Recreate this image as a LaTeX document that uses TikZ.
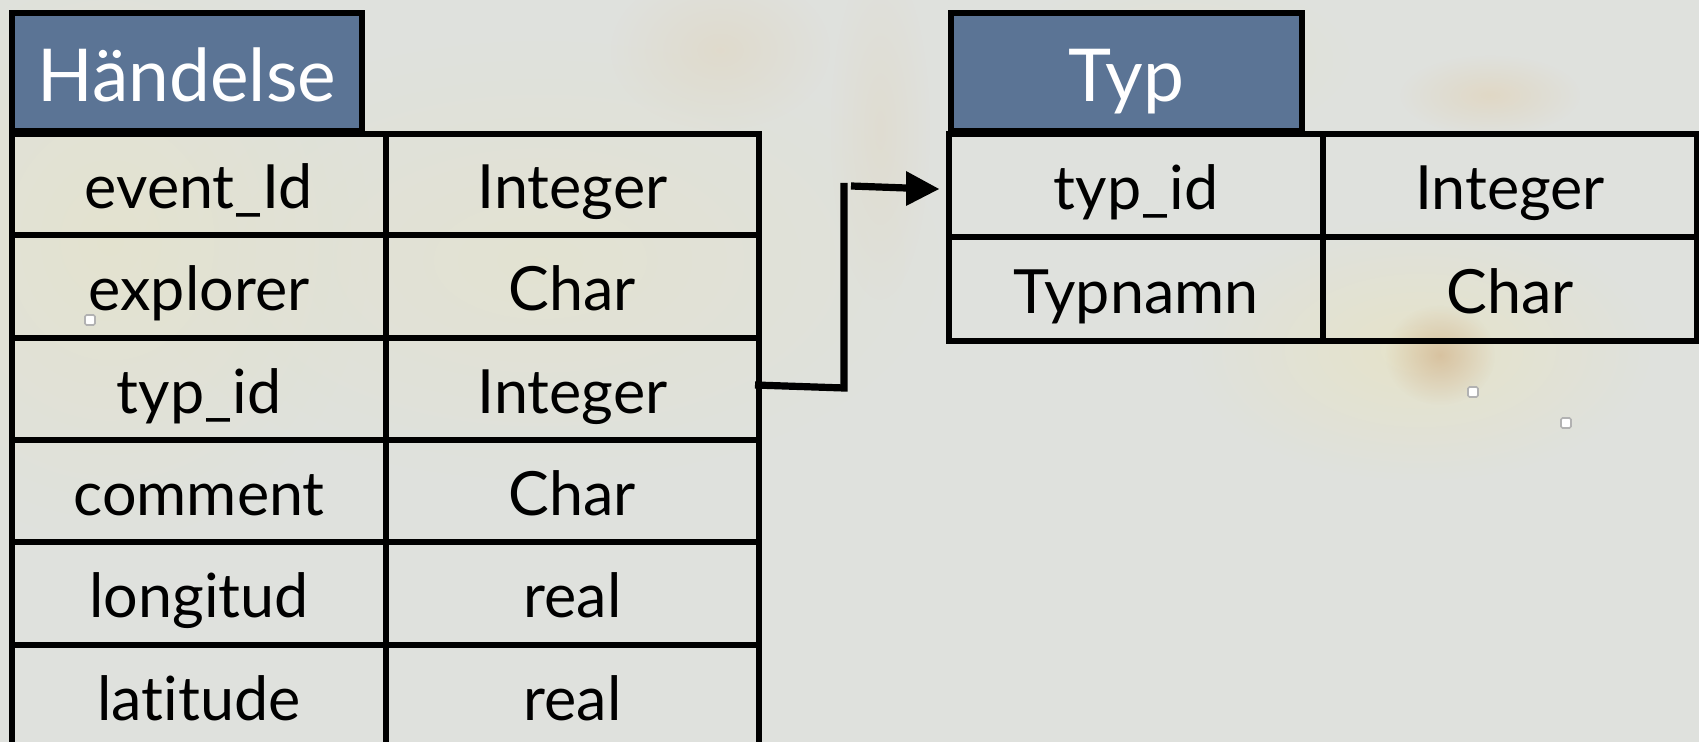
\documentclass[tikz,border=0pt]{standalone}
\usepackage{fontspec}
\setmainfont{Lato}[Ligatures=CommonOff]
\usetikzlibrary{fadings}
\tikzfading[name=softblot,inner color=transparent!0,outer color=transparent!100]
\definecolor{bgc}{HTML}{DFE1DD}
\definecolor{headc}{HTML}{5B7495}
\definecolor{blotA}{HTML}{E8E4C4}
\definecolor{blotB}{HTML}{E2CFAE}
\definecolor{blotC}{HTML}{D2B48E}
\tikzset{
  x=0.5pt,y=-0.5pt,
  cellbox/.style={draw=black,line width=2.8pt,inner sep=0pt,outer sep=0pt,
    text height=26.8pt,text depth=2.5pt,font=\fontsize{30.5}{30.5}\selectfont,text=black},
  headbox/.style={draw=black,line width=2.8pt,fill=headc,inner sep=0pt,outer sep=0pt,
    text height=34pt,text depth=4.5pt,font=\fontsize{36.5}{36.5}\selectfont,text=white},
  blot/.style={fill=#1,path fading=softblot,draw=none},
  marker/.style={draw=black!30,fill=white,line width=0.8pt,minimum size=5pt,inner sep=0pt,rounded corners=0.8pt},
  link/.style={draw=black,line width=3.6pt,line join=miter},
  linkhead/.style={fill=black,draw=none}
}
\newcommand{\cellat}[6]{% name, x1, y1, x2, y2, text
  \node[cellbox,minimum width=#4*0.5pt-#2*0.5pt,minimum height=#5*0.5pt-#3*0.5pt] (#1) at ({(#2+#4)/2},{(#3+#5)/2}) {#6};}
\begin{document}
\begin{tikzpicture}
\useasboundingbox (0,0) rectangle (1699,742);
\clip (0,0) rectangle (1699,742);
\fill[bgc] (0,0) rectangle (1699,742);
% faint background blotches
\path[blot=blotA,opacity=0.55] (110,240) ellipse [x radius=260,y radius=300];
\path[blot=blotA,opacity=0.45] (540,260) ellipse [x radius=400,y radius=220];
\path[blot=blotB,opacity=0.35] (720,50) ellipse [x radius=110,y radius=80];
\path[blot=blotB,opacity=0.5] (1490,95) ellipse [x radius=90,y radius=40];
\path[blot=blotA,opacity=0.8] (1420,350) ellipse [x radius=230,y radius=130];
\path[blot=blotC,opacity=0.7] (1440,355) ellipse [x radius=55,y radius=50];
\path[blot=blotB,opacity=0.25] (880,130) ellipse [x radius=50,y radius=170];
\path[blot=blotA,opacity=0.4] (1180,60) ellipse [x radius=170,y radius=80];
% Händelse
\cellat{ha}{12}{134}{386}{235}{event\_Id}
\cellat{hb}{386}{134}{759}{235}{Integer}
\cellat{hc}{12}{235}{386}{338}{explorer}
\cellat{hd}{386}{235}{759}{338}{Char}
\cellat{he}{12}{338}{386}{440}{typ\_id}
\cellat{hf}{386}{338}{759}{440}{Integer}
\cellat{hg}{12}{440}{386}{542}{comment}
\cellat{hh}{386}{440}{759}{542}{Char}
\cellat{hi}{12}{542}{386}{645}{longitud}
\cellat{hj}{386}{542}{759}{645}{real}
\cellat{hk}{12}{645}{386}{748}{latitude}
\cellat{hl}{386}{645}{759}{748}{real}
\node[headbox,minimum width=175pt,minimum height=59pt] (hhead) at (187,72) {Händelse};
% Typ
\cellat{ta}{949}{134}{1323}{237}{typ\_id}
\cellat{tb}{1323}{134}{1697}{237}{Integer}
\cellat{tc}{949}{237}{1323}{341}{Typnamn}
\cellat{td}{1323}{237}{1697}{341}{Char}
\node[headbox,minimum width=175.5pt,minimum height=59pt] (thead) at (1126.5,72) {Typ};
% connector
\coordinate (bend1) at (844,388);
\coordinate (bend2) at (844,183);
\coordinate (turn) at (851,186);
\coordinate (start) at (755,385);
\coordinate (tip) at (939,189);
\draw[link] (start) -- (bend1) -- (bend2);
\draw[link] (turn) -- (906,188);
\fill[linkhead] (tip) -- (906,171) -- (906,206) -- cycle;
% small markers
\node[marker] (m1) at (90,320) {};
\node[marker] (m2) at (1473,392) {};
\node[marker] (m3) at (1566,423) {};
\end{tikzpicture}
\end{document}
